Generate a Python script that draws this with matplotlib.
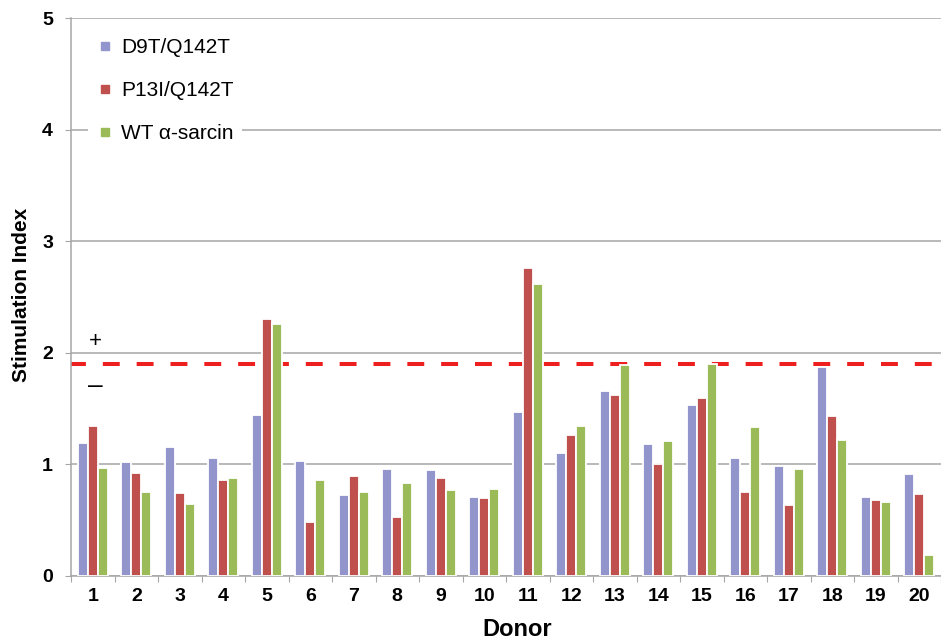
import matplotlib
matplotlib.use('Agg')
import matplotlib.pyplot as plt
from matplotlib.lines import Line2D
import numpy as np

# Stimulation index per donor for each protein
donors = [str(i) for i in range(1, 21)]
d9t_q142t = [1.19, 1.02, 1.15, 1.06, 1.44, 1.03, 0.72, 0.96, 0.95, 0.71,
             1.47, 1.10, 1.66, 1.18, 1.53, 1.06, 0.98, 1.87, 0.71, 0.91]
p13i_q142t = [1.34, 0.92, 0.74, 0.86, 2.30, 0.48, 0.89, 0.53, 0.88, 0.70,
              2.76, 1.26, 1.62, 1.00, 1.59, 0.75, 0.63, 1.43, 0.68, 0.73]
wt_sarcin = [0.97, 0.75, 0.64, 0.88, 2.26, 0.86, 0.75, 0.83, 0.77, 0.78,
             2.62, 1.34, 1.89, 1.21, 1.90, 1.33, 0.96, 1.22, 0.66, 0.19]
series_names = ['D9T/Q142T', 'P13I/Q142T', 'WT α-sarcin']
threshold = 1.9

colors = ['#9195cc', '#c0504d', '#9bbb59']
grid_col = '#a6a6a6'

plt.rcParams['font.family'] = ['Liberation Sans', 'DejaVu Sans']

fig = plt.figure(figsize=(9.41, 6.42), dpi=100)
W, H = 941, 642
ax = fig.add_axes([71 / W, 66.3 / H, 870 / W, 557.5 / H])

x = np.arange(len(donors)) + 0.5
w = 10 / 44
for k, vals in enumerate([d9t_q142t, p13i_q142t, wt_sarcin]):
    ax.bar(x + (k - 1) * w, vals, w, color=colors[k], edgecolor='white',
           linewidth=1.3, zorder=3)

# positive / negative cut-off
ax.axhline(threshold, color='#ee1f1f', lw=2.9, ls=(0.5, (4.2, 4.2)), zorder=2.5)
ax.text(0.57, 2.10, '+', ha='center', va='center', fontsize=16)
ax.text(0.55, 1.70, '–', ha='center', va='center', fontsize=19)

ax.set_xlim(0, 870 / 44)
ax.set_ylim(0, 5)
ax.set_yticks(range(6))
ax.yaxis.grid(True, color=grid_col, lw=1.1)
ax.set_axisbelow(True)
for s in ['top', 'right']:
    ax.spines[s].set_visible(False)
for s in ['left', 'bottom']:
    ax.spines[s].set_color(grid_col)
    ax.spines[s].set_linewidth(1.1)

ax.set_xticks(range(21))
ax.set_xticklabels([])
ax.set_xticks(x, minor=True)
ax.set_xticklabels(donors, minor=True, fontsize=14, fontweight='bold')
ax.tick_params(axis='x', which='major', length=4, color=grid_col, direction='out')
ax.tick_params(axis='x', which='minor', length=0, pad=9)
ax.tick_params(axis='y', length=4, color=grid_col, pad=9)
for lab in ax.get_yticklabels():
    lab.set_fontsize(14)
    lab.set_fontweight('bold')

fig.text(22 / W, 1 - 295 / H, 'Stimulation Index', rotation=90, ha='center',
         va='center', fontsize=15, fontweight='bold')
fig.text(517 / W, 1 - 629 / H, 'Donor', ha='center', va='center',
         fontsize=17, fontweight='bold')

handles = [Line2D([], [], marker='s', ls='none', markersize=6, color=c) for c in colors]
ax.legend(handles, series_names, loc='upper left',
          bbox_to_anchor=(88 / W, 1 - 30 / H), bbox_transform=fig.transFigure,
          fontsize=15, frameon=True, facecolor='white', edgecolor='none',
          framealpha=1, handlelength=0.8, handletextpad=0.4, labelspacing=1.15,
          borderpad=0.4, borderaxespad=0)

fig.savefig('out.png', dpi=100)
